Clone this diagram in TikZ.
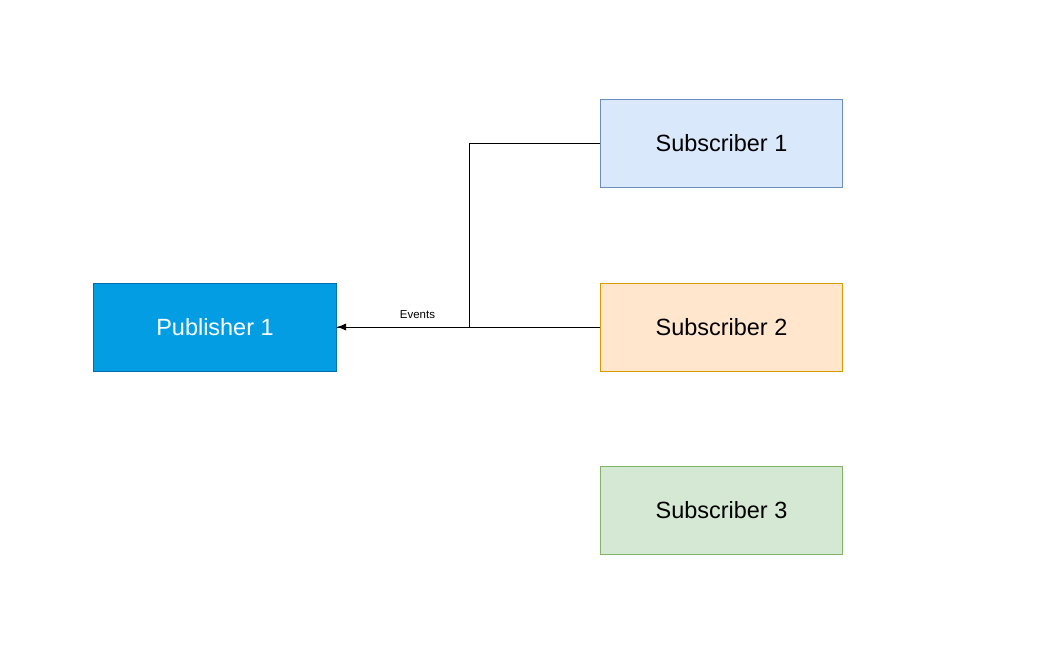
\documentclass[tikz,border=0pt]{standalone}
\usepackage{fontspec}
\setmainfont{Liberation Sans}
\usetikzlibrary{arrows.meta}

\definecolor{pubfill}{HTML}{039DE4}
\definecolor{publine}{HTML}{006EAF}
\definecolor{bluefill}{HTML}{DAE8FC}
\definecolor{blueline}{HTML}{6C8EBF}
\definecolor{orangefill}{HTML}{FFE6CC}
\definecolor{orangeline}{HTML}{D79B00}
\definecolor{greenfill}{HTML}{D5E8D4}
\definecolor{greenline}{HTML}{82B366}

\begin{document}
\begin{tikzpicture}[x=0.75pt, y=-0.75pt,
	every node/.style={rectangle, minimum width=182pt, minimum height=66pt, inner sep=0pt, line width=0.75pt, font=\fontsize{17.6}{21}\selectfont},
	every path/.style={draw=black, line width=0.75pt}]
				\useasboundingbox[draw=none] (0,0) rectangle (1063,670);
				
				\node[fill=pubfill, draw=publine, text=white] (pub) at (215,327){Publisher 1};
				\node[fill=bluefill, draw=blueline] (s1) at (721.5,143.5){Subscriber 1};
				\node[fill=orangefill, draw=orangeline] (s2) at (721.5,327){Subscriber 2};
				\node[fill=greenfill, draw=greenline] (s3) at (721.5,510){Subscriber 3};
				
				\coordinate (bend) at (469,327);
				\node[minimum width=0pt, minimum height=0pt, font=\fontsize{8.6}{10}\selectfont] (events) at (417.5,315){Events};
				
				\path[-{Latex[length=7pt, width=5.5pt]}] (s2) -- (pub);
				\path (s1.west) -| (bend);
				\path (bend) -- (pub.east);
				\end{tikzpicture}
\end{document}
